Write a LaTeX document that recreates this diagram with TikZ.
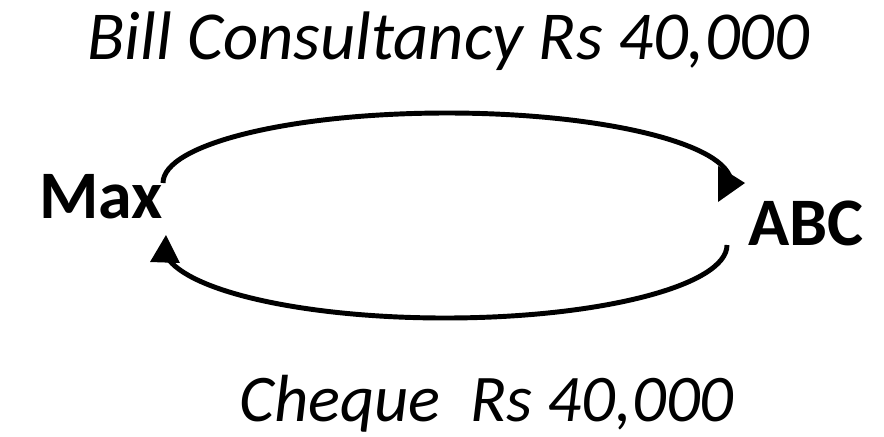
\documentclass[tikz,border=0pt]{standalone}
\usepackage{fontspec}
\setmainfont{Carlito}
\begin{document}
\begin{tikzpicture}[x=0.75pt,y=-0.75pt,
  flow/.style={line width=3.7pt},
  headfill/.style={fill=black},
  party/.style={font=\fontsize{51}{58}\selectfont\bfseries, inner sep=0pt},
  caption/.style={font=\fontsize{51.5}{58}\selectfont\itshape, inner sep=0pt, anchor=base west}]
\useasboundingbox (0,0) rectangle (884,436);

% labels
\node[caption] (bill) at (87,59) {Bill Consultancy Rs 40,000};
\node[caption, font=\fontsize{50}{56}\selectfont\itshape] (cheque) at (239,421) {Cheque\ \ Rs 40,000};
\node[party, anchor=base west] (max) at (39,218) {Max};
\node[party, anchor=base east] (abc) at (864,245) {ABC};

% ends of the two flows
\coordinate (maxout) at (163,183);
\coordinate (abcin) at (745,183);
\coordinate (abcout) at (727,245);
\coordinate (maxin) at (166,235);

% invoice: Max -> ABC
\draw[flow] (maxout) arc[start angle=180, end angle=356, x radius=284, y radius=70];
\fill[headfill] (abcin) -- ++(-27,-17) -- ++(0,36) -- cycle;

% payment: ABC -> Max
\draw[flow] (abcout) arc[start angle=0, end angle=168, x radius=282, y radius=73];
\fill[headfill] (maxin) -- ++(-16,27) -- ++(30,1) -- cycle;
\end{tikzpicture}
\end{document}
